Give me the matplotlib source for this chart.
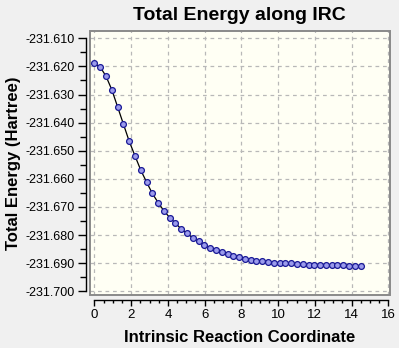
import matplotlib
matplotlib.use("Agg")
import matplotlib.pyplot as plt
from matplotlib.patches import Rectangle
from matplotlib.ticker import MultipleLocator, FormatStrFormatter

irc = [0.00, 0.32, 0.63, 0.95, 1.26, 1.58, 1.89, 2.21, 2.52, 2.84, 3.15, 3.47,
       3.78, 4.10, 4.41, 4.73, 5.04, 5.36, 5.67, 5.99, 6.30, 6.62, 6.93, 7.25,
       7.56, 7.88, 8.19, 8.51, 8.82, 9.14, 9.45, 9.77, 10.08, 10.40, 10.71, 11.03,
       11.34, 11.66, 11.97, 12.29, 12.60, 12.92, 13.23, 13.55, 13.86, 14.18, 14.49]
energy = [-231.6189, -231.6203, -231.6235, -231.6284, -231.6344, -231.6406,
          -231.6466, -231.6519, -231.6569, -231.6612, -231.6652, -231.6685,
          -231.6714, -231.6738, -231.6758, -231.6779, -231.6794, -231.6811,
          -231.6822, -231.6837, -231.6845, -231.6854, -231.6861, -231.6869,
          -231.6875, -231.6879, -231.6885, -231.6890, -231.6894, -231.6894,
          -231.6897, -231.6899, -231.6901, -231.6901, -231.6901, -231.6904,
          -231.6904, -231.6906, -231.6907, -231.6907, -231.6907, -231.6908,
          -231.6908, -231.6908, -231.6911, -231.6911, -231.6911]

title = "Total Energy along IRC"
xlabel = "Intrinsic Reaction Coordinate"
ylabel = "Total Energy (Hartree)"

plt.rcParams['font.family'] = ['Liberation Sans', 'DejaVu Sans']

fig = plt.figure(figsize=(3.99, 3.48), dpi=100, facecolor='#f0f0f0')
ax = fig.add_axes([89.5/399, 1-295/348, (390-89.5)/399, (295-31)/348])
ax.set_facecolor('#fffff4')

ax.plot(irc, energy, color='black', lw=0.9, marker='o', ms=4.2,
        mfc='#9b9bec', mec='#1a1a96', mew=0.9, zorder=3)

ax.set_xlim(-0.27, 16.09)
ax.set_ylim(-231.70135, -231.6074)

ax.xaxis.set_major_locator(MultipleLocator(2))
ax.xaxis.set_minor_locator(MultipleLocator(0.5))
ax.yaxis.set_major_locator(MultipleLocator(0.01))
ax.yaxis.set_minor_locator(MultipleLocator(0.005))
ax.yaxis.set_major_formatter(FormatStrFormatter('%.3f'))

ax.grid(True, which='major', color='#b8b8b8', lw=0.9, ls=(0, (3, 3)))
ax.set_axisbelow(True)

for s in ['top', 'right']:
    ax.spines[s].set_visible(False)
ax.spines['left'].set_position(('outward', 2.6))
ax.spines['bottom'].set_position(('outward', 3.4))
ax.spines['left'].set_bounds(-231.700, -231.610)
ax.spines['bottom'].set_bounds(0, 16)
ax.spines['left'].set_linewidth(1.0)
ax.spines['bottom'].set_linewidth(1.0)

ax.add_patch(Rectangle((0, 0), 1, 1, transform=ax.transAxes, fill=False,
                       edgecolor='#8a8a8a', lw=1.4, clip_on=False, zorder=4))

ax.tick_params(axis='y', which='major', length=6, width=1, direction='out', labelsize=9, pad=2)
ax.tick_params(axis='y', which='minor', length=4, width=1, direction='out')
ax.tick_params(axis='x', which='major', length=4, width=1, direction='out', labelsize=9.5, pad=3)
ax.tick_params(axis='x', which='minor', length=2.5, width=1, direction='out')

ax.set_title(title, fontsize=14, fontweight='bold', pad=8)
ax.set_xlabel(xlabel, fontsize=12, fontweight='bold', labelpad=6)
ax.set_ylabel(ylabel, fontsize=12, fontweight='bold', labelpad=3)

fig.savefig('out.png', dpi=100, facecolor=fig.get_facecolor())
